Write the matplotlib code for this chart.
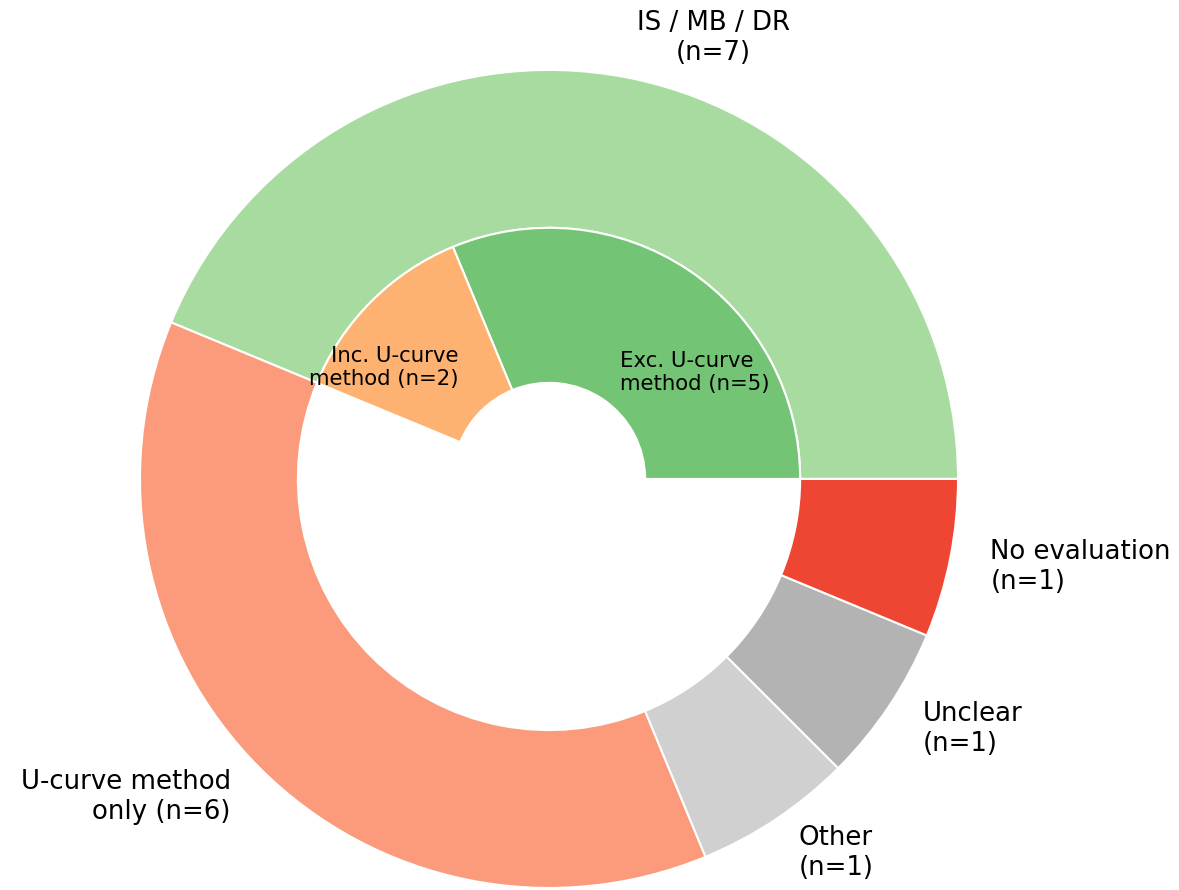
import matplotlib
matplotlib.use("Agg")
import matplotlib.pyplot as plt

# outer ring: evaluation approach
outer_labels = ["IS / MB / DR\n(n=7)", "U-curve method\nonly (n=6)", "Other\n(n=1)",
                "Unclear\n(n=1)", "No evaluation\n(n=1)"]
outer_counts = [7, 6, 1, 1, 1]
outer_colors = ["#a8dba0", "#fb9b7b", "#d0d0d0", "#b3b3b3", "#ef4533"]

# inner ring: split of IS / MB / DR, the rest stays empty
inner_labels = ["Exc. U-curve\nmethod (n=5)", "Inc. U-curve\nmethod (n=2)", ""]
inner_counts = [5, 2, 9]
inner_colors = ["#74c476", "#fdb272", "white"]

fig = plt.figure(figsize=(11.79, 8.9), dpi=100)
ax = fig.add_axes([0, 0, 1, 1])

wedges, texts = ax.pie(outer_counts, labels=outer_labels, colors=outer_colors,
                       radius=1.0, startangle=0, counterclock=True, labeldistance=1.1,
                       wedgeprops=dict(width=0.386, edgecolor="white", linewidth=1.5),
                       textprops=dict(fontsize=18.7))
texts[0].set_multialignment("center")

in_wedges, in_texts = ax.pie(inner_counts, labels=inner_labels, colors=inner_colors,
                             radius=0.614, startangle=0, counterclock=True, labeldistance=0.511,
                             wedgeprops=dict(width=0.379, edgecolor="white", linewidth=1.5),
                             textprops=dict(fontsize=15.3))
in_wedges[2].set_visible(False)
# nudge the "Inc." label up a bit, as in the original
x0, y0 = in_texts[1].get_position()
in_texts[1].set_position((x0, y0 + 0.05))

ax.set_aspect("equal")
ax.set_xlim(-1.342, 1.540)
ax.set_ylim(-1.005, 1.171)
ax.axis("off")

fig.savefig("out.png", dpi=100)
